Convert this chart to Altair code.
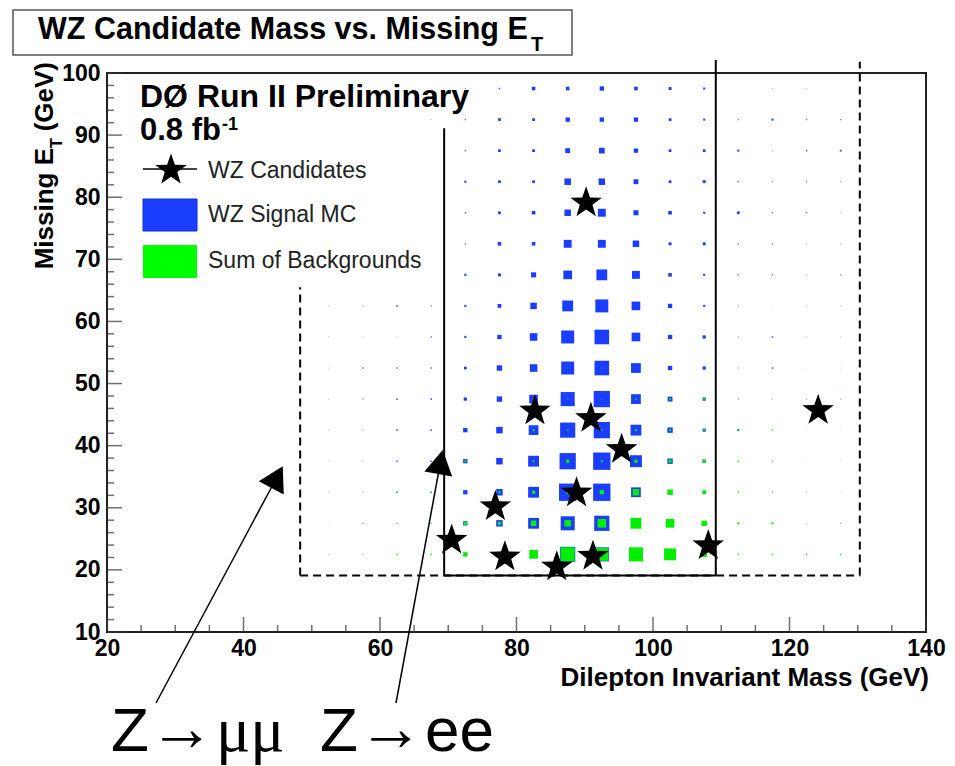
import math
import altair as alt
import pandas as pd

FONT = "Liberation Sans"
BLUE = "#1a3dff"
GREEN = "#00ee00"

# ---- histogram bins (bin centres, GeV) ----
mass_centres = [52.5, 57.5, 62.5, 67.5, 72.5, 77.5, 82.5, 87.5,
                92.5, 97.5, 102.5, 107.5, 112.5, 117.5, 122.5, 127.5]
met_centres = [97.5, 92.5, 87.5, 82.5, 77.5, 72.5, 67.5, 62.5,
               57.5, 52.5, 47.5, 42.5, 37.5, 32.5, 27.5, 22.5]

# WZ signal MC, relative bin content (rows follow met_centres)
signal = [
    [0, 0, 0, 0.5, 1.0, 1.5, 3.3, 3.3, 4.0, 3.3, 2.7, 2.0, 0, 0.7, 0.7, 0],
    [0, 0, 0, 0.7, 1.3, 2.5, 2.5, 4.0, 4.0, 4.0, 2.5, 2.0, 1.2, 2.0, 1.2, 1.2],
    [0, 0, 0, 0, 1.3, 2.5, 2.5, 4.5, 5.3, 4.0, 2.5, 2.5, 2.0, 0, 1.5, 1.8],
    [0, 0, 0, 0, 2.0, 2.5, 2.5, 6.0, 6.0, 4.5, 2.5, 2.7, 1.2, 1.0, 1.0, 1.0],
    [0, 0, 0, 0, 1.3, 2.5, 3.3, 6.0, 7.3, 4.7, 3.3, 2.0, 2.5, 1.2, 1.2, 0],
    [0, 0, 0, 0, 1.3, 3.3, 3.3, 7.3, 7.3, 6.0, 2.7, 2.7, 1.3, 1.2, 0, 0.8],
    [0, 0, 0, 0, 2.0, 2.7, 4.7, 8.0, 10.0, 7.3, 3.3, 2.0, 1.3, 1.2, 0, 1.0],
    [0.7, 1.0, 1.5, 1.2, 2.0, 3.5, 6.0, 10.0, 12.0, 8.0, 4.0, 2.0, 1.0, 0, 0, 0],
    [0.7, 0.7, 0.7, 1.3, 2.0, 4.0, 7.0, 12.0, 13.5, 8.0, 4.0, 3.0, 1.0, 1.5, 0, 0],
    [0.7, 1.3, 1.3, 1.3, 2.5, 5.0, 7.0, 12.0, 13.5, 9.0, 4.0, 3.0, 1.0, 1.5, 0, 0],
    [0.7, 1.0, 1.5, 1.5, 3.0, 5.0, 8.0, 13.0, 15.0, 9.0, 4.5, 3.0, 1.0, 0, 0, 0],
    [0.7, 1.0, 1.5, 1.5, 4.0, 6.0, 9.0, 14.0, 15.0, 10.0, 5.0, 3.0, 2.0, 0, 0, 0],
    [0.7, 1.0, 1.5, 1.5, 4.0, 6.0, 10.0, 15.0, 16.0, 11.0, 5.0, 3.0, 0, 1.0, 0, 0],
    [0.7, 1.0, 1.5, 1.5, 4.0, 6.0, 10.0, 16.0, 16.0, 9.0, 4.0, 0, 0, 1.0, 0, 0],
    [0, 1.0, 1.0, 1.0, 4.0, 6.0, 10.0, 13.0, 14.0, 8.0, 0, 0, 0, 0, 0, 1.0],
    [0, 0, 0, 0, 0, 0, 0, 14.0, 13.0, 0, 0, 0, 0, 0, 0, 0],
]

# Sum of backgrounds, relative bin content
background = [
    [0, 0, 0, 0, 0, 0, 0, 0, 0, 0, 0, 0, 0, 0, 0, 0],
    [0, 0, 0, 0, 0, 0, 0, 0, 0, 0, 0, 0, 0, 0, 0, 0],
    [0, 0, 0, 0, 0, 0, 0, 0, 0, 0, 0, 0, 0, 1.0, 0, 0],
    [0, 0, 0, 0, 0, 0, 0, 0, 0, 0, 0, 0, 0, 0, 0, 0],
    [0, 0, 0, 0, 0, 0, 0, 0, 0, 0, 0, 0, 0, 0, 0, 0.8],
    [0, 0, 0, 0, 0, 0, 0, 0, 0, 0, 0, 0, 0, 0, 1.0, 0],
    [0, 0, 0, 0, 0, 0, 0, 0, 0, 0, 0, 0, 0, 0, 1.0, 0],
    [0, 0, 0, 0, 0, 0, 0, 0, 0, 0, 0, 0, 0, 0.7, 1.0, 1.0],
    [0, 0, 0, 0, 0, 0, 0, 0, 0, 0, 0, 0, 0, 0.5, 1.0, 1.0],
    [0, 0, 0, 0, 0, 0, 1.0, 1.0, 1.0, 0, 0, 0, 0, 0.5, 0.7, 0.7],
    [0, 0, 0, 0, 0, 0, 1.5, 1.0, 1.0, 1.5, 2.0, 2.0, 0, 1.0, 1.0, 1.0],
    [0, 0, 0, 0, 0, 0, 2.0, 1.5, 1.5, 2.0, 2.0, 2.0, 1.5, 1.5, 0.7, 0.7],
    [0, 0, 0, 0, 2.0, 0, 2.0, 3.0, 2.0, 3.0, 3.0, 3.0, 1.5, 1.0, 0.7, 0.7],
    [0, 0, 1.0, 1.0, 1.0, 2.0, 3.0, 3.0, 4.0, 6.0, 5.0, 3.5, 1.5, 1.0, 1.0, 0.5],
    [0.7, 1.0, 1.0, 1.0, 3.0, 3.0, 5.0, 6.0, 8.0, 10.0, 8.0, 5.0, 2.0, 2.0, 1.0, 0],
    [1.0, 1.0, 1.5, 1.5, 4.0, 5.0, 8.0, 13.0, 12.0, 13.0, 11.0, 5.0, 1.5, 1.5, 1.5, 1.5],
]

# WZ candidate events
cand_mass = [90.2, 82.7, 90.9, 95.4, 88.8, 76.9, 70.5, 78.3, 85.9, 91.2, 108.1, 124.2]
cand_met = [79.1, 45.6, 44.4, 39.4, 32.4, 30.2, 24.8, 22.1, 20.5, 22.2, 23.9, 45.7]

# selection windows (x, y, x2, y2 in GeV)
ee_window = [(69.4, 19.1, 69.4, 91.1), (69.4, 19.1, 109.2, 19.1), (109.2, 19.1, 109.2, 102.1)]
mumu_window = [(48.3, 19.1, 48.3, 65.5), (48.3, 19.1, 130.3, 19.1), (130.3, 19.1, 130.3, 101.8)]

x_ticks = [20, 40, 60, 80, 100, 120, 140]
y_ticks = [10, 20, 30, 40, 50, 60, 70, 80, 90, 100]

W, H = 819, 559

# five-pointed star as a custom symbol path (unit box -1..1)
pts = []
for k in range(10):
    r = 1.0 if k % 2 == 0 else 0.40
    a = math.radians(-90 + 36 * k)
    pts.append(f"{r * math.cos(a):.4f},{r * math.sin(a):.4f}")
STAR_PATH = "M" + "L".join(pts) + "Z"
STAR_SIZE = 1100


def grid_frame(rows):
    recs = []
    for yi, y in enumerate(met_centres):
        for xi, x in enumerate(mass_centres):
            v = rows[yi][xi]
            if v > 0:
                recs.append({"mass": x, "met": y, "content": v})
    return pd.DataFrame(recs)


xs = alt.Scale(domain=[20, 140], nice=False, zero=False)
ys = alt.Scale(domain=[10, 100], nice=False, zero=False)

x_axis = alt.Axis(values=x_ticks, title=None, grid=False, domain=False, ticks=False,
                  tickSize=0, labelFont=FONT, labelFontSize=23, labelFontWeight="bold",
                  labelColor="black", labelPadding=5, labelFlush=False,
                  labelOverlap=False, labelBound=False)
y_axis = alt.Axis(values=y_ticks, title=None, grid=False, domain=False, ticks=False,
                  tickSize=0, labelFont=FONT, labelFontSize=23, labelFontWeight="bold",
                  labelColor="black", labelPadding=7, labelFlush=False,
                  labelOverlap=False, labelBound=False)

size_scale = alt.Scale(type="pow", exponent=2, domain=[0, 16], range=[0, 300])
op_scale = alt.Scale(domain=[0, 2.5], range=[0.45, 1], clamp=True)

sig = alt.Chart(grid_frame(signal)).mark_square(color=BLUE, filled=True).encode(
    x=alt.X("mass:Q", scale=xs, axis=x_axis),
    y=alt.Y("met:Q", scale=ys, axis=y_axis),
    size=alt.Size("content:Q", scale=size_scale, legend=None),
    opacity=alt.Opacity("content:Q", scale=op_scale, legend=None),
)
bkg = alt.Chart(grid_frame(background)).mark_square(color=GREEN, filled=True).encode(
    x=alt.X("mass:Q", scale=xs),
    y=alt.Y("met:Q", scale=ys),
    size=alt.Size("content:Q", scale=size_scale, legend=None),
    opacity=alt.Opacity("content:Q", scale=op_scale, legend=None),
)

# inward ticks
xt = pd.DataFrame({"v": [v for v in range(20, 141, 5)]})
xt["major"] = xt["v"] % 20 == 0
yt = pd.DataFrame({"v": [v for v in range(10, 101, 2)]})
yt["major"] = yt["v"] % 10 == 0

xmaj = alt.Chart(xt[xt.major]).mark_tick(color="#333", thickness=1.5, size=15).encode(
    x=alt.X("v:Q", scale=xs), y=alt.value(H - 7.5))
xmin = alt.Chart(xt[~xt.major]).mark_tick(color="#333", thickness=1.5, size=7).encode(
    x=alt.X("v:Q", scale=xs), y=alt.value(H - 3.5))
ymaj = alt.Chart(yt[yt.major]).mark_tick(color="#333", thickness=1.5, size=15).encode(
    y=alt.Y("v:Q", scale=ys), x=alt.value(7.5))
ymin = alt.Chart(yt[~yt.major]).mark_tick(color="#333", thickness=1.5, size=7).encode(
    y=alt.Y("v:Q", scale=ys), x=alt.value(3.5))

ee_df = pd.DataFrame(ee_window, columns=["x", "y", "x2", "y2"])
mm_df = pd.DataFrame(mumu_window, columns=["x", "y", "x2", "y2"])
ee_lines = alt.Chart(ee_df).mark_rule(color="black", strokeWidth=2).encode(
    x=alt.X("x:Q", scale=xs), y=alt.Y("y:Q", scale=ys), x2="x2:Q", y2="y2:Q")
mm_lines = alt.Chart(mm_df).mark_rule(color="black", strokeWidth=2, strokeDash=[8, 5]).encode(
    x=alt.X("x:Q", scale=xs), y=alt.Y("y:Q", scale=ys), x2="x2:Q", y2="y2:Q")

stars = alt.Chart(pd.DataFrame({"mass": cand_mass, "met": cand_met})).mark_point(
    shape=STAR_PATH, filled=True, color="black", opacity=1, size=STAR_SIZE).encode(
    x=alt.X("mass:Q", scale=xs), y=alt.Y("met:Q", scale=ys))

one = pd.DataFrame({"a": [0]})


def txt(t, x, y, size, weight="normal", color="black", align="left", angle=0, font=FONT):
    kw = dict(text=t, fontSize=size, fontWeight=weight, color=color, align=align,
              baseline="alphabetic", font=font)
    if angle:
        kw["angle"] = angle
    return alt.Chart(one).mark_text(**kw).encode(x=alt.value(x), y=alt.value(y))


# legend block
leg = [
    txt("DØ Run II Preliminary", 33, 34, 32, "bold"),
    txt("0.8 fb", 33, 67, 31, "bold"),
    txt("-1", 115, 57, 18, "bold"),
    alt.Chart(one).mark_rule(color="black", strokeWidth=1.5).encode(
        x=alt.value(36), x2=alt.value(90), y=alt.value(96)),
    alt.Chart(one).mark_point(shape=STAR_PATH, filled=True, color="black", opacity=1,
                              size=STAR_SIZE).encode(x=alt.value(64), y=alt.value(97)),
    txt("WZ Candidates", 101, 105, 23, color="#222"),
    alt.Chart(one).mark_rect(color=BLUE, stroke="#1030c0", strokeWidth=1).encode(
        x=alt.value(36), x2=alt.value(90), y=alt.value(126), y2=alt.value(158)),
    txt("WZ Signal MC", 101, 149, 23, color="#222"),
    alt.Chart(one).mark_rect(color="#00ff00").encode(
        x=alt.value(36), x2=alt.value(90), y=alt.value(172), y2=alt.value(205)),
    txt("Sum of Backgrounds", 101, 195, 23, color="#222"),
]

# title box
title = [
    alt.Chart(one).mark_rect(fill="white", stroke="#555", strokeWidth=1.5).encode(
        x=alt.value(-94), x2=alt.value(465), y=alt.value(-63), y2=alt.value(-18)),
    txt("WZ Candidate Mass vs. Missing E", -69, -34, 30.5, "bold"),
    txt("T", 424, -22, 20, "bold"),
]

# axis titles
axis_titles = [
    txt("Dilepton Invariant Mass (GeV)", 822, 613, 26, "bold", align="right"),
    txt("(GeV)", -54, -11, 26, "bold", align="right", angle=270),
    txt("T", -45, 65, 17, "bold", align="right", angle=270),
    txt("Missing E", -54, 75, 26, "bold", align="right", angle=270),
]

# arrows and labels below the plot
BASE = 678
arrows = [
    alt.Chart(one).mark_rule(color="black", strokeWidth=1.5).encode(
        x=alt.value(49), y=alt.value(630), x2=alt.value(170), y2=alt.value(404)),
    alt.Chart(one).mark_point(shape="triangle-up", filled=True, color="black", opacity=1,
                              size=800, angle=28).encode(x=alt.value(170), y=alt.value(404)),
    alt.Chart(one).mark_rule(color="black", strokeWidth=1.5).encode(
        x=alt.value(289), y=alt.value(630), x2=alt.value(333.5), y2=alt.value(389)),
    alt.Chart(one).mark_point(shape="triangle-up", filled=True, color="black", opacity=1,
                              size=800, angle=10.5).encode(x=alt.value(333.5), y=alt.value(389)),
    txt("Z", 4, BASE, 62),
    txt("→", 42, BASE - 1, 66, font="Liberation Serif"),
    txt("μμ", 109, BASE, 64, font="Liberation Serif"),
    txt("Z", 213, BASE, 62),
    txt("→", 251, BASE - 1, 66, font="Liberation Serif"),
    txt("ee", 318, BASE, 62),
]

chart = alt.layer(
    sig, bkg, xmaj, xmin, ymaj, ymin, ee_lines, mm_lines, stars,
    *leg, *title, *axis_titles, *arrows
).properties(
    width=W, height=H,
    autosize=alt.AutoSizeParams(type="none"),
    padding={"left": 99, "top": 65, "right": 20, "bottom": 142},
    background="white",
).configure_view(stroke="#222", strokeWidth=2)

chart.save("out.html", embed_options={"renderer": "svg", "actions": False})
